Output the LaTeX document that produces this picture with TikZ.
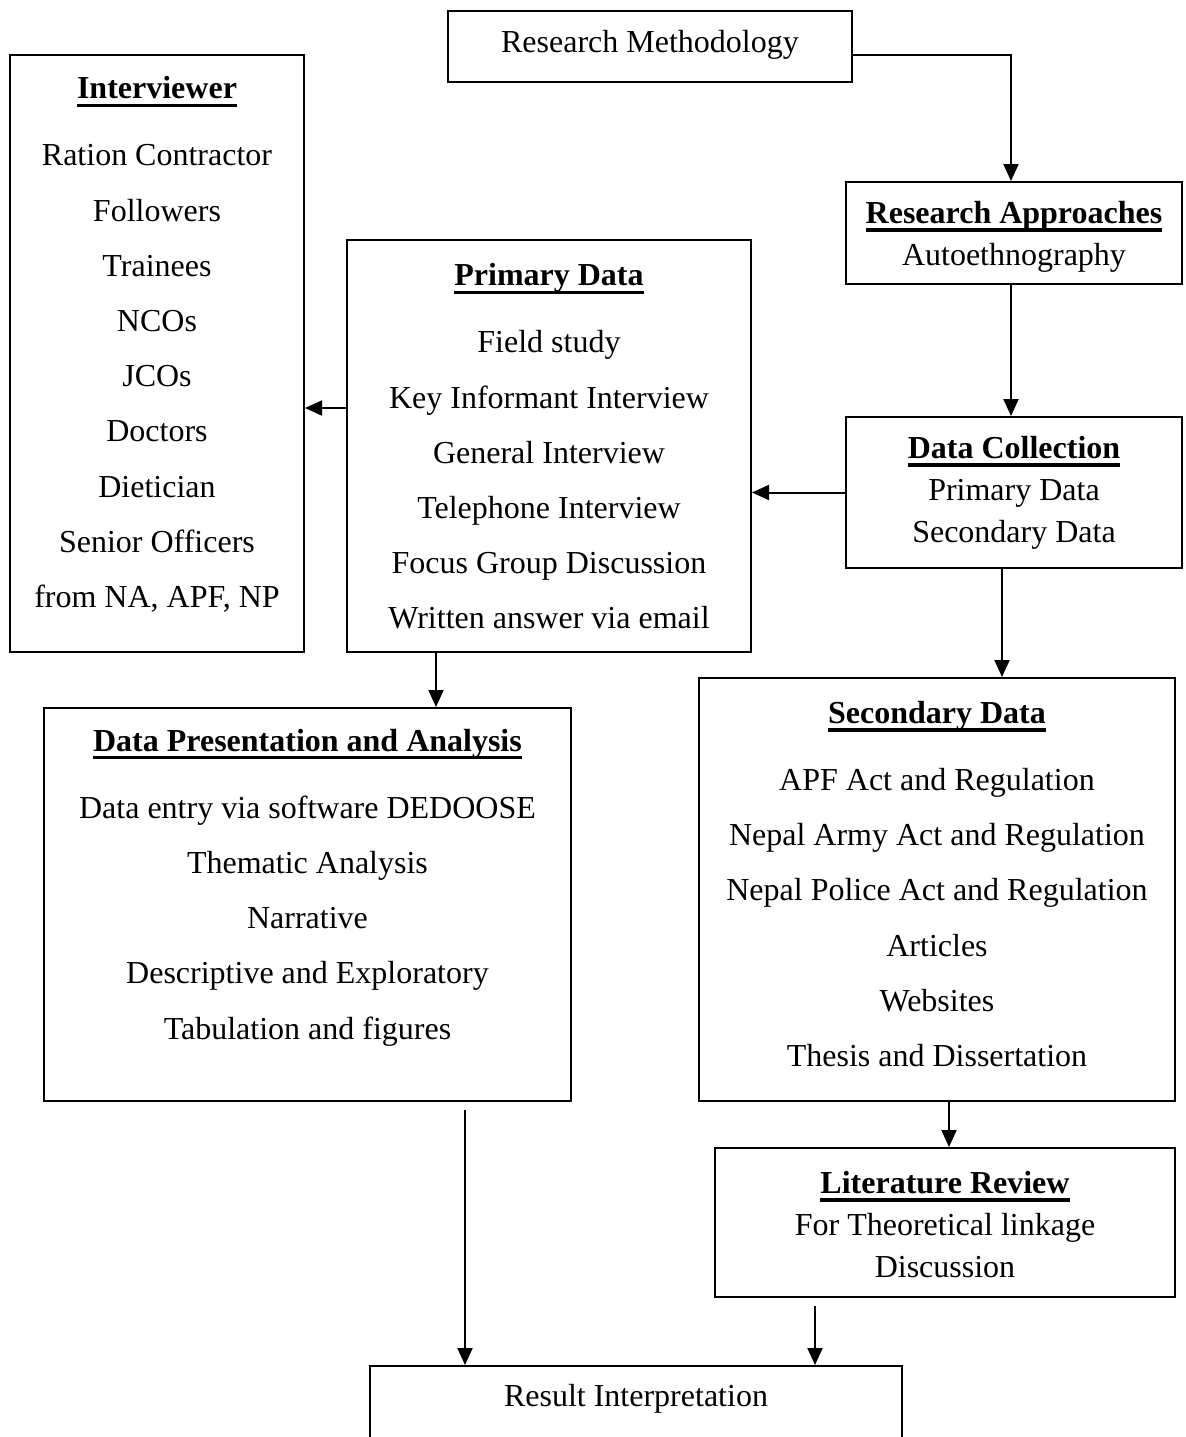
\documentclass[tikz,border=0pt]{standalone}
\usepackage{fontspec}
\setmainfont{Liberation Serif}
\usetikzlibrary{arrows.meta, fit}
\newcommand{\hd}[1]{{\bfseries\setbox0=\hbox{#1}\rlap{\rule[-4.1pt]{\wd0}{1.7pt}}\box0}}

\begin{document}
\begin{tikzpicture}[x=0.5pt, y=-0.5pt,
      font=\fontsize{16}{27.6}\selectfont,
      box/.style={draw, line width=1pt, inner sep=0pt},
      lst/.style={align=center, inner sep=0pt},
      tight/.style={lst, font=\fontsize{16}{21}\selectfont},
      arr/.style={-{Triangle[length=8.5pt, width=7.5pt]}, line width=1pt}]
    \useasboundingbox (0,0) rectangle (1185,1437);
    \node[box, fit={(448,11) (852,82)}] (rm) {};
    \node[box, fit={(10,55) (304,652)}] (iv) {};
    \node[box, fit={(846,182) (1182,284)}] (ra) {};
    \node[box, fit={(347,240) (751,652)}] (pd) {};
    \node[box, fit={(846,417) (1182,568)}] (dc) {};
    \node[box, fit={(44,708) (571,1101)}] (dpa) {};
    \node[box, fit={(699,678) (1175,1101)}] (sd) {};
    \node[box, fit={(715,1148) (1175,1297)}] (lr) {};
    \node[box, fit={(370,1366) (902,1470)}] (ri) {};
    \node[lst] (rmt) at (650,45) {Research Methodology};
    \node[lst] (ivt) at (157,344.5) {\hd{Interviewer}\\[6pt] Ration Contractor\\ Followers\\
      Trainees\\ NCOs\\ JCOs\\ Doctors\\ Dietician\\ Senior Officers\\ from NA, APF, NP};
    \node[tight] (rat) at (1014,237) {\hd{Research Approaches}\\ Autoethnography};
    \node[lst] (pdt) at (549,446.5) {\hd{Primary Data}\\[6pt] Field study\\
      Key Informant Interview\\ General Interview\\ Telephone Interview\\
      Focus Group Discussion\\ Written answer via email};
    \node[tight] (dct) at (1014,493) {\hd{Data Collection}\\ Primary Data\\ Secondary Data};
    \node[lst] (dpat) at (307.5,887.5) {\hd{Data Presentation and Analysis}\\[6pt]
      Data entry via software DEDOOSE\\ Thematic Analysis\\ Narrative\\
      Descriptive and Exploratory\\ Tabulation and figures};
    \node[lst] (sdt) at (937,884) {\hd{Secondary Data}\\[6pt] APF Act and Regulation\\
      Nepal Army Act and Regulation\\ Nepal Police Act and Regulation\\ Articles\\
      Websites\\ Thesis and Dissertation};
    \node[tight] (lrt) at (945,1224.5) {\hd{Literature Review}\\ For Theoretical linkage\\
      Discussion};
    \node[lst] (rit) at (636,1399) {Result Interpretation};
    \coordinate (c1) at (465,1110);
    \coordinate (c2) at (815,1306);
    \draw[arr] ([yshift=-4pt]rm.east) -| ([xshift=-1.5pt]ra.north);
    \draw[arr] ([xshift=-1.5pt]ra.south) -- ([xshift=-1.5pt]dc.north);
    \draw[arr] (dc.west) -- (dc.west -| pd.east);
    \draw[arr] ([yshift=19pt]pd.west) -- ([yshift=19pt]pd.west -| iv.east);
    \draw[arr] ([xshift=-6pt]dc.south) -- ([xshift=-6pt]dc.south |- sd.north);
    \draw[arr] ([xshift=-56.5pt]pd.south) -- ([xshift=-56.5pt]pd.south |- dpa.north);
    \draw[arr] ([xshift=2pt]lr.north |- sd.south) -- ([xshift=2pt]lr.north);
    \draw[arr] (c1) -- (c1 |- ri.north);
    \draw[arr] (c2) -- (c2 |- ri.north);
  \end{tikzpicture}
\end{document}
